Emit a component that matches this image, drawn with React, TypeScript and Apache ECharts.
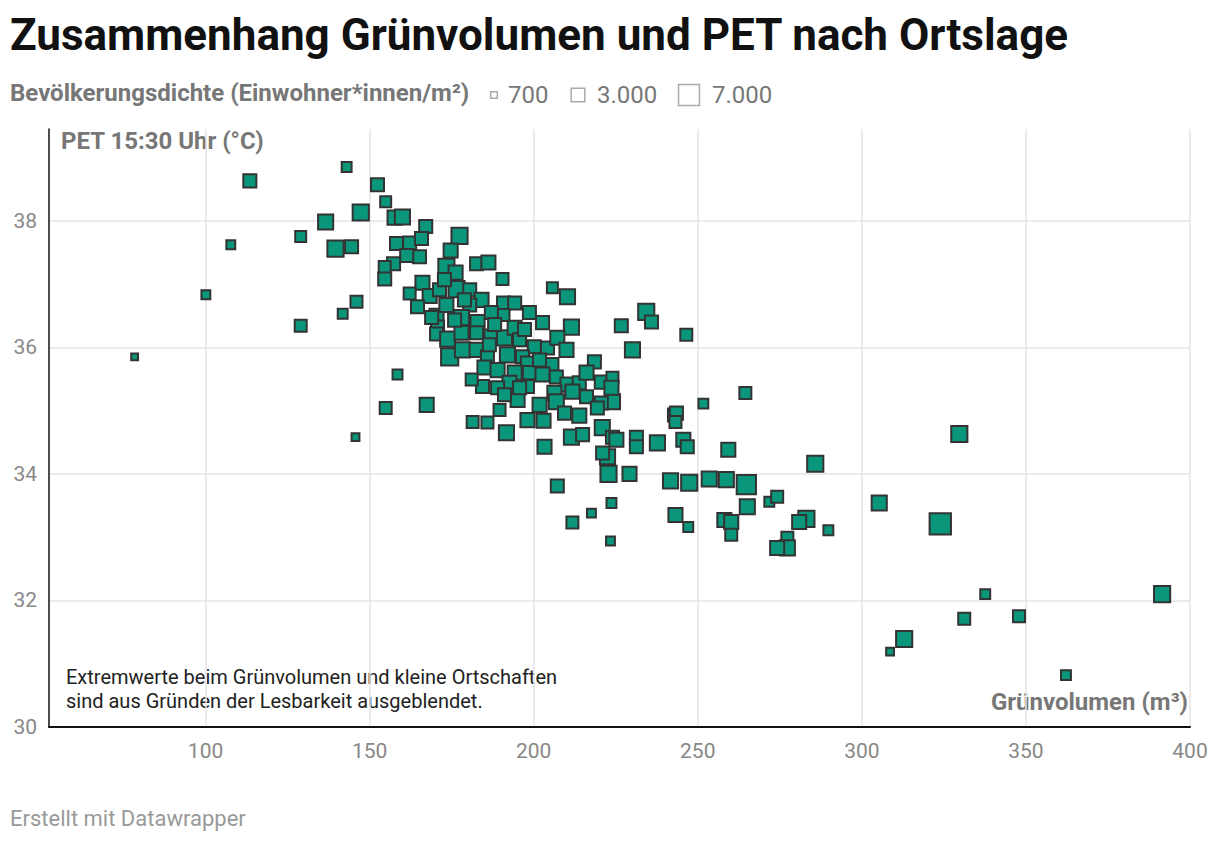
import React, { useEffect, useRef } from "react";
import * as echarts from "echarts";

const titleText = "Zusammenhang Grünvolumen und PET nach Ortslage";
const legendTitle = "Bevölkerungsdichte (Einwohner*innen/m²)";
const legendValues = [700, 3000, 7000];
const legendLabels = ["700", "3.000", "7.000"];
const yAxisTitle = "PET 15:30 Uhr (°C)";
const xAxisTitle = "Grünvolumen (m³)";
const noteLines = [
  "Extremwerte beim Grünvolumen und kleine Ortschaften",
  "sind aus Gründen der Lesbarkeit ausgeblendet.",
];
const footer = "Erstellt mit Datawrapper";
const xTicks = [100, 150, 200, 250, 300, 350, 400];
const yTicks = [30, 32, 34, 36, 38];

// Grünvolumen (m³)
const gruenvolumen = [
  78.4, 100.1, 107.7, 113.5, 129.0, 129.0, 136.6, 139.6, 143.0, 141.8,
  144.5, 146.0, 145.7, 147.3, 152.4, 154.9, 158.5, 154.9, 157.6, 160.0,
  167.1, 177.4, 158.2, 162.2, 165.8, 165.2, 161.3, 157.3, 154.6, 154.6,
  174.7, 173.4, 176.2, 182.6, 186.2, 190.5, 166.1, 162.2, 168.3, 164.6,
  170.4, 171.3, 176.5, 180.5, 184.1, 173.4, 180.5, 190.8, 194.2, 198.7,
  190.8, 178.0, 182.9, 187.1, 202.7, 205.7, 210.3, 211.5, 226.7, 170.7,
  170.4, 173.8, 178.0, 182.6, 187.1, 191.1, 194.2, 195.7, 200.2, 204.2,
  207.2, 210.0, 174.4, 178.3, 182.6, 185.9, 192.0, 196.6, 198.1, 205.4,
  185.0, 189.0, 194.2, 198.7, 202.7, 206.9, 210.3, 213.9, 218.5, 216.1,
  220.6, 224.0, 224.0, 220.6, 216.1, 211.8, 206.3, 206.9, 201.8, 198.1,
  192.6, 189.0, 184.4, 181.1, 167.4, 189.6, 195.1, 181.4, 185.9, 198.1,
  203.0, 209.4, 213.9, 191.7, 211.5, 214.9, 220.9, 224.0, 203.3, 234.3,
  235.9, 246.5, 230.1, 223.7, 219.4, 225.2, 231.3, 237.7, 231.3, 222.5,
  221.0, 242.9, 243.5, 243.2, 245.6, 246.8, 251.7, 264.5, 259.3, 285.8,
  222.8, 229.2, 207.2, 241.7, 247.4, 253.5, 258.7, 264.8, 265.1, 271.8,
  274.2, 223.7, 217.6, 211.8, 243.2, 247.1, 258.1, 260.2, 260.2, 223.4,
  277.3, 277.3, 274.2, 283.1, 280.9, 289.8, 305.3, 323.9, 329.7, 391.5,
  312.9, 308.6, 331.2, 337.6, 347.9, 362.2,
  175.9, 188.1, 197.2, 201.8, 191.1, 178.9, 172.8, 186.5, 195.7, 168.9,
];

// PET 15:30 Uhr (°C)
const pet = [
  35.85, 36.83, 37.62, 38.63, 37.75, 36.34, 37.98, 37.56, 38.85, 36.53,
  37.59, 36.72, 34.58, 38.13, 38.57, 38.30, 35.57, 35.04, 38.05, 38.06,
  37.91, 37.76, 37.64, 37.65, 37.72, 37.43, 37.45, 37.32, 37.27, 37.08,
  37.53, 37.27, 37.18, 37.32, 37.34, 37.08, 37.02, 36.85, 36.81, 36.64,
  36.50, 36.91, 36.92, 36.91, 36.75, 36.67, 36.67, 36.70, 36.70, 36.55,
  36.51, 36.47, 36.40, 36.55, 36.39, 36.94, 36.80, 36.32, 36.34, 36.32,
  36.21, 36.13, 36.23, 36.23, 36.17, 36.15, 36.31, 36.12, 36.01, 35.99,
  36.15, 35.96, 35.85, 35.96, 35.96, 35.85, 35.88, 35.85, 35.75, 35.72,
  35.68, 35.64, 35.60, 35.60, 35.57, 35.53, 35.41, 35.44, 35.77, 35.60,
  35.45, 35.52, 35.14, 35.12, 35.22, 35.30, 35.28, 35.14, 35.09, 35.38,
  35.44, 35.36, 35.38, 35.49, 35.09, 35.01, 35.17, 34.82, 34.81, 34.85,
  34.84, 34.96, 34.92, 34.65, 34.58, 34.62, 34.73, 34.58, 34.43, 36.56,
  36.40, 36.20, 35.96, 35.36, 35.04, 34.54, 34.58, 34.49, 34.43, 34.27,
  34.33, 34.93, 34.96, 34.82, 34.54, 34.43, 35.11, 35.28, 34.38, 34.16,
  34.00, 34.00, 33.81, 33.89, 33.86, 33.92, 33.91, 33.83, 33.48, 33.56,
  33.64, 33.54, 33.38, 33.23, 33.35, 33.16, 33.27, 33.24, 33.04, 32.94,
  32.99, 32.83, 32.83, 33.29, 33.24, 33.11, 33.54, 33.21, 34.63, 32.10,
  31.39, 31.19, 31.71, 32.10, 31.75, 30.82,
  36.43, 36.36, 36.28, 35.80, 35.25, 36.75, 37.07, 36.04, 35.36, 36.47,
];

// Bevölkerungsdichte (Einwohner*innen/m²)
const dichte = [
  950, 1480, 1480, 2900, 2130, 2500, 3790, 4280, 1790, 1790,
  2900, 2500, 1200, 4280, 2900, 2130, 1790, 2500, 3330, 3790,
  2900, 4280, 2900, 2900, 2900, 2900, 2900, 2900, 2500, 2900,
  3330, 4280, 3330, 2900, 3330, 2500, 3330, 2500, 3330, 2900,
  3330, 2900, 4280, 2900, 3330, 3330, 2900, 2900, 2900, 2900,
  2500, 3790, 3330, 2900, 2900, 2130, 3790, 3790, 2900, 2900,
  2900, 3790, 3330, 2900, 3330, 3790, 3330, 2900, 2900, 2900,
  3330, 3330, 4800, 3790, 3330, 2900, 3790, 2900, 2900, 3330,
  3330, 3330, 3330, 2900, 3330, 2900, 3330, 2900, 2900, 3330,
  2900, 2500, 3790, 2900, 2900, 3330, 3330, 3790, 3330, 2900,
  3330, 2900, 2900, 2500, 3330, 2500, 3330, 2500, 2500, 3330,
  3330, 2900, 3330, 3790, 3790, 2900, 3790, 2900, 3330, 4280,
  2900, 2500, 3790, 3330, 2900, 3330, 2900, 3790, 2900, 3790,
  2900, 2900, 2900, 2500, 3330, 2900, 1790, 2500, 3330, 4280,
  4280, 3330, 2900, 3790, 4280, 3790, 3790, 5920, 3790, 1790,
  2500, 1790, 1480, 2500, 3330, 1790, 3330, 3330, 2500, 1480,
  2500, 3790, 3330, 4280, 3330, 1790, 3790, 7160, 4280, 4280,
  4280, 1200, 2500, 1790, 2500, 1790,
  2900, 2900, 2900, 2900, 2900, 2900, 2900, 2900, 2900, 2900,
];

const FONT = "Roboto, 'Noto Sans', sans-serif";
const FILL = "#0a967a";
const sizeOf = (d: number) => Math.sqrt(d) * 0.27 - 1.5;

export default function App() {
  const ref = useRef<HTMLDivElement>(null);
  useEffect(() => {
    if (!ref.current) return;
    const chart = echarts.init(ref.current, undefined, { renderer: "svg" });
    const data = gruenvolumen.map((x, i) => [x, pet[i], dichte[i]]);

    const legendX = [494, 578, 689];
    const legendTextX = [508, 597, 712];
    const legendY = 95;
    const legendGraphics: any[] = [
      {
        type: "text",
        left: 10,
        top: 81,
        style: {
          text: legendTitle,
          font: `bold 24px ${FONT}`,
          fill: "#777",
        },
      },
    ];
    legendValues.forEach((v, i) => {
      const s = Math.sqrt(v) * 0.25;
      legendGraphics.push({
        type: "rect",
        shape: { x: legendX[i] - s / 2, y: legendY - s / 2, width: s, height: s },
        style: { fill: "none", stroke: "#aaa", lineWidth: 1.5 },
      });
      legendGraphics.push({
        type: "text",
        x: legendTextX[i],
        y: legendY,
        style: {
          text: legendLabels[i],
          font: `24px ${FONT}`,
          fill: "#777",
          verticalAlign: "middle",
        },
      });
    });

    chart.setOption({
      animation: false,
      textStyle: { fontFamily: FONT },
      title: {
        text: titleText,
        left: 5,
        top: 8,
        textStyle: { fontSize: 44, fontWeight: "bold", color: "#111", fontFamily: FONT },
      },
      grid: { left: 49, right: 30, top: 129, bottom: 117, containLabel: false },
      xAxis: {
        type: "value",
        min: 52.3,
        max: 400,
        axisLine: { show: true, lineStyle: { color: "#111", width: 2 } },
        axisTick: { show: false, customValues: xTicks },
        axisLabel: {
          customValues: xTicks,
          color: "#888",
          fontSize: 21,
          margin: 13,
          fontFamily: FONT,
        },
        splitLine: { show: true, lineStyle: { color: "#e5e5e5", width: 1.5 } },
      },
      yAxis: {
        type: "value",
        min: 30,
        max: 39.45,
        axisLine: { show: true, lineStyle: { color: "#111", width: 1.5 } },
        axisTick: { show: false, customValues: yTicks },
        axisLabel: {
          customValues: yTicks,
          color: "#888",
          fontSize: 21,
          margin: 12,
          fontFamily: FONT,
        },
        splitLine: { show: true, lineStyle: { color: "#e5e5e5", width: 1.5 } },
      },
      series: [
        {
          type: "scatter",
          symbol: "rect",
          data,
          symbolSize: (val: number[]) => sizeOf(val[2]),
          itemStyle: { color: FILL, borderColor: "#333", borderWidth: 2, opacity: 1 },
        },
      ],
      graphic: [
        ...legendGraphics,
        {
          type: "text",
          left: 61,
          top: 129,
          style: { text: yAxisTitle, font: `bold 24px ${FONT}`, fill: "#777" },
        },
        {
          type: "text",
          right: 32,
          top: 690,
          style: { text: xAxisTitle, font: `bold 24px ${FONT}`, fill: "#777" },
        },
        {
          type: "text",
          left: 66,
          top: 665,
          style: {
            text: noteLines.join("\n"),
            font: `20px ${FONT}`,
            fill: "#222",
            lineHeight: 24,
          },
        },
        {
          type: "text",
          left: 10,
          top: 807,
          style: { text: footer, font: `22px ${FONT}`, fill: "#999" },
        },
      ],
    });
    return () => chart.dispose();
  }, []);
  return (
    <div
      ref={ref}
      style={{ position: "fixed", left: 0, top: 0, width: 1220, height: 844, background: "#fff" }}
    />
  );
}
